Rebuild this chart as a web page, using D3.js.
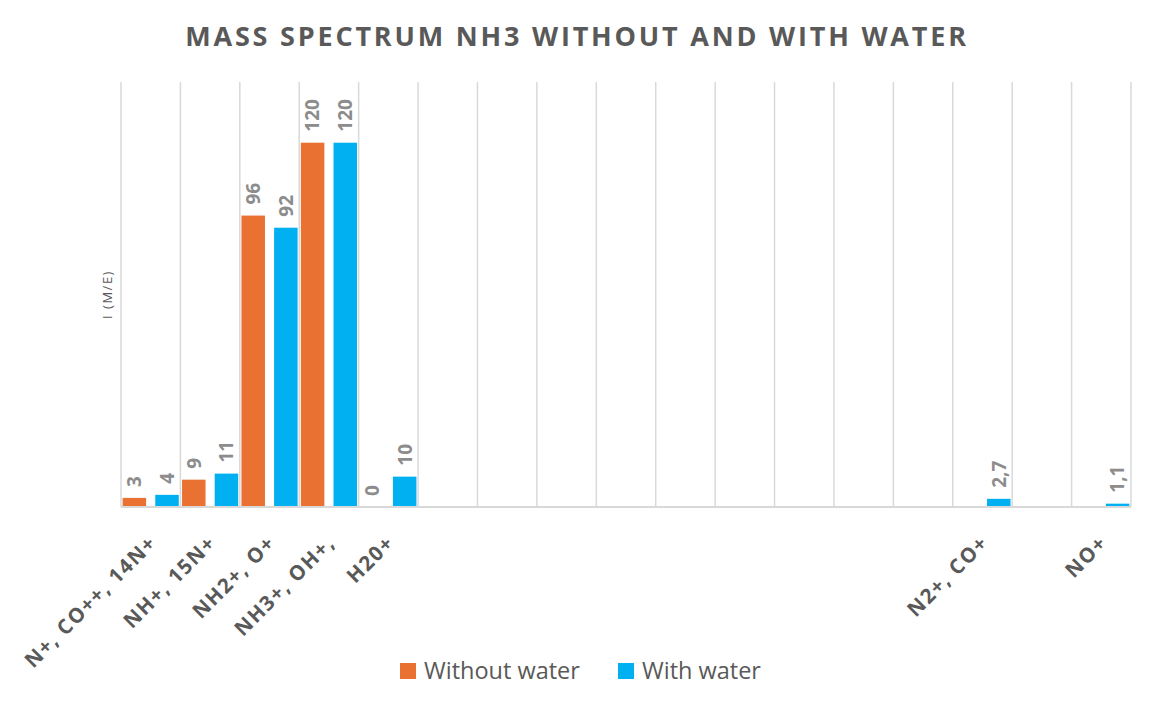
<!doctype html>
<html>
<head>
<meta charset="utf-8">
<style>
  body { margin: 0; background: #fff; }
  text { font-family: "Open Sans", "Liberation Sans", sans-serif; }
</style>
<script src="https://d3js.org/d3.v7.min.js"></script>
</head>
<body>
<script>
// m/e values 14..30, one band each
var masses = [14, 15, 16, 17, 18, 19, 20, 21, 22, 23, 24, 25, 26, 27, 28, 29, 30];
var labels = ["N+, CO++, 14N+", "NH+, 15N+", "NH2+, O+", "NH3+, OH+,", "H20+",
              "", "", "", "", "", "", "", "", "", "N2+, CO+", "", "NO+"];
var withoutWater = [3, 9, 96, 120, 0, null, null, null, null, null, null, null, null, null, null, null, null];
var withWater = [4, 11, 92, 120, 10, null, null, null, null, null, null, null, null, null, 2.7, null, 1.1];
var seriesNames = ["Without water", "With water"];
var colors = ["#E97132", "#00B0F0"];

var canvasWidth = 1154;
var canvasHeight = 708;

var svg = d3.select("body").append("svg")
    .attr("width", canvasWidth)
    .attr("height", canvasHeight);

// plot area (note: "top" is taken by window.top, so use plotTop)
var plotLeft = 121, plotRight = 1131, plotTop = 82, plotBottom = 507;

var xScale = d3.scaleBand().domain(masses).range([plotLeft, plotRight]).padding(0);
var xInner = d3.scaleBand().domain([0, 1])
    .range([0, xScale.bandwidth()])
    .paddingInner(0.28).paddingOuter(0.05);
var yScale = d3.scaleLinear().domain([0, 140]).range([plotBottom, plotTop]);

var fmt = d3.formatLocale({decimal: ",", thousands: ".", grouping: [3], currency: ["", ""]}).format("~g");

// title
svg.append("text")
    .attr("x", 577).attr("y", 46)
    .attr("text-anchor", "middle")
    .attr("font-size", "27px")
    .attr("font-weight", "bold")
    .attr("letter-spacing", "2.8px")
    .attr("fill", "#595959")
    .text("MASS SPECTRUM NH3 WITHOUT AND WITH WATER");

// vertical gridlines at band edges
var edges = masses.map(function(m) { return xScale(m); }).concat([plotRight]);
svg.append("g").selectAll("line")
    .data(edges)
    .enter().append("line")
    .attr("x1", function(d) { return d; })
    .attr("x2", function(d) { return d; })
    .attr("y1", plotTop).attr("y2", plotBottom)
    .attr("stroke", "#d9d9d9")
    .attr("stroke-width", 1.5);

// x axis line
svg.append("line")
    .attr("x1", plotLeft).attr("x2", plotRight)
    .attr("y1", plotBottom).attr("y2", plotBottom)
    .attr("stroke", "#d9d9d9")
    .attr("stroke-width", 2);

// bars + value labels
var series = [withoutWater, withWater];
series.forEach(function(vals, si) {
    var pts = masses.map(function(m, i) { return {m: m, v: vals[i]}; })
        .filter(function(d) { return d.v !== null; });
    var g = svg.append("g");
    g.selectAll("rect")
        .data(pts)
        .enter().append("rect")
        .attr("x", function(d) { return xScale(d.m) + xInner(si); })
        .attr("y", function(d) { return yScale(d.v); })
        .attr("width", xInner.bandwidth())
        .attr("height", function(d) { return Math.max(0, plotBottom - 1 - yScale(d.v)); })
        .attr("fill", colors[si]);
    g.selectAll("text")
        .data(pts)
        .enter().append("text")
        .attr("transform", function(d) {
            var cx = xScale(d.m) + xInner(si) + xInner.bandwidth() / 2;
            return "translate(" + cx + "," + (yScale(d.v) - 11) + ") rotate(-90)";
        })
        .attr("dy", "0.36em")
        .attr("font-size", "19px")
        .attr("font-weight", "bold")
        .attr("fill", "#8c8c8c")
        .text(function(d) { return fmt(d.v); });
});

// category labels
svg.append("g").selectAll("text")
    .data(masses)
    .enter().append("text")
    .attr("transform", function(m) {
        var cx = xScale(m) + xScale.bandwidth() / 2;
        return "translate(" + (cx - 3) + "," + 534 + ") rotate(-45)";
    })
    .attr("dy", "0.7em")
    .attr("text-anchor", "end")
    .attr("font-size", "20.5px")
    .attr("font-weight", "bold")
    .attr("fill", "#595959")
    .attr("letter-spacing", "1.5px")
    .text(function(m, i) { return labels[i]; });

// y axis title
svg.append("text")
    .attr("transform", "translate(112," + ((plotTop + plotBottom) / 2) + ") rotate(-90)")
    .attr("text-anchor", "middle")
    .attr("font-size", "13px")
    .attr("letter-spacing", "1.5px")
    .attr("fill", "#595959")
    .text("I (M/E)");

// legend
var legend = svg.append("g");
var legX = [400, 618];
seriesNames.forEach(function(name, i) {
    legend.append("rect")
        .attr("x", legX[i]).attr("y", 663)
        .attr("width", 16).attr("height", 16)
        .attr("fill", colors[i]);
    legend.append("text")
        .attr("x", legX[i] + 24).attr("y", 679)
        .attr("font-size", "23.5px")
        .attr("fill", "#595959")
        .text(name);
});
</script>
</body>
</html>
